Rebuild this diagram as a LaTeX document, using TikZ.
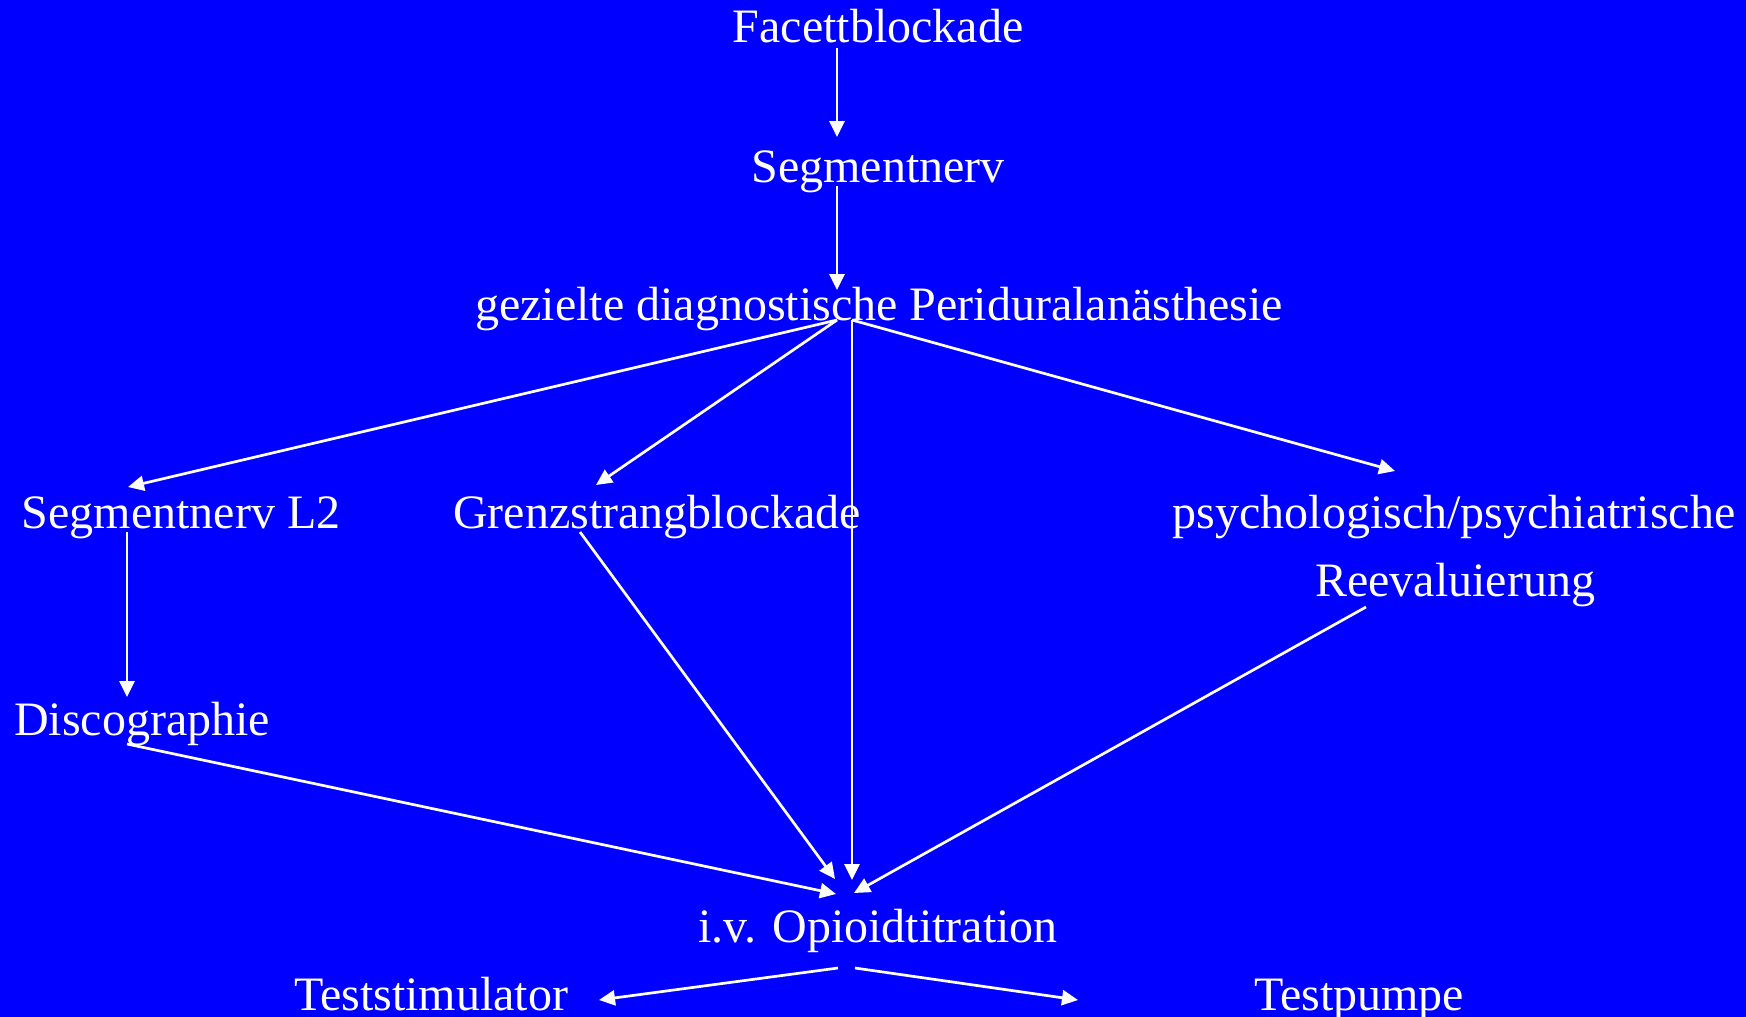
\documentclass[tikz,border=0pt]{standalone}
\usepackage{fontspec}
\setmainfont{Liberation Serif}
\usetikzlibrary{arrows.meta,calc}

\definecolor{slideblue}{RGB}{0,0,255}
\tikzset{every picture/.style={line width=1.35pt}}
\tikzset{
  txt/.style={anchor=base,inner sep=0.75pt,text=white,font=\fontsize{24}{28}\selectfont},
  arr/.style={draw=white,-{Triangle[length=8pt,width=7.5pt]}},
  ln/.style={draw=white}
}

\begin{document}
\begin{tikzpicture}[x=0.5pt,y=0.5pt,yscale=-1,xscale=1]
	%set diagram size 1746 x 1017
	\fill[slideblue] (0,0) rectangle (1746,1017);
	\useasboundingbox (0,0) rectangle (1746,1017);
	
	% Text Node
	\node[txt] (fac) at (878,42) {Facettblockade};
	% Text Node
	\node[txt] (seg) at (878,182) {Segmentnerv};
	% Text Node
	\node[txt] (gez) at (879,320) {gezielte diagnostische Periduralanästhesie};
	% Text Node
	\node[txt] (segl) at (181,528) {Segmentnerv L2};
	% Text Node
	\node[txt] (grz) at (657,528) {Grenzstrangblockade};
	% Text Node
	\node[txt] (psy) at (1454,528) {psychologisch/psychiatrische};
	% Text Node
	\node[txt] (rev) at (1455,596) {Reevaluierung};
	% Text Node
	\node[txt] (dis) at (142,735) {Discographie};
	% Text Node
	\node[txt] (opi) at (878,942) {i.v. Opioidtitration};
	% Text Node
	\node[txt] (tst) at (431,1010) {Teststimulator};
	% Text Node
	\node[txt] (tpu) at (1359,1010) {Testpumpe};
	
	%Straight Lines
	\draw[arr] ($(fac.base)+(-41,6)$) -- ($(seg.base)+(-41,-45)$);
	\draw[arr] ($(seg.base)+(-41,4)$) -- ($(gez.base)+(-42,-30)$);
	%Straight Lines
	\draw[arr] ($(gez.base)+(-42,0)$) -- ($(segl.base)+(-53,-41)$);
	\draw[arr] ($(gez.base)+(-42,0)$) -- ($(grz.base)+(-61,-43)$);
	\draw[arr] ($(gez.base)+(-27,0)$) -- ($(opi.base)+(-26,-62)$);
	\draw[arr] ($(gez.base)+(-27,0)$) -- ($(psy.base)+(-59,-57)$);
	%Straight Lines
	\draw[arr] ($(segl.base)+(-54,4)$) -- ($(dis.base)+(-15,-38)$);
	\draw[arr] ($(grz.base)+(-77,4)$) -- ($(opi.base)+(-43,-63)$);
	\draw[arr] ($(rev.base)+(-89,11)$) -- ($(opi.base)+(-24,-49)$);
	\draw[arr] ($(dis.base)+(-15,9)$) -- ($(opi.base)+(-42,-48)$);
	%Straight Lines
	\draw[arr] ($(opi.base)+(-40,26)$) -- ($(tst.base)+(168,-10)$);
	\draw[arr] ($(opi.base)+(-23,26)$) -- ($(tpu.base)+(-281,-10)$);
	
\end{tikzpicture}
\end{document}
